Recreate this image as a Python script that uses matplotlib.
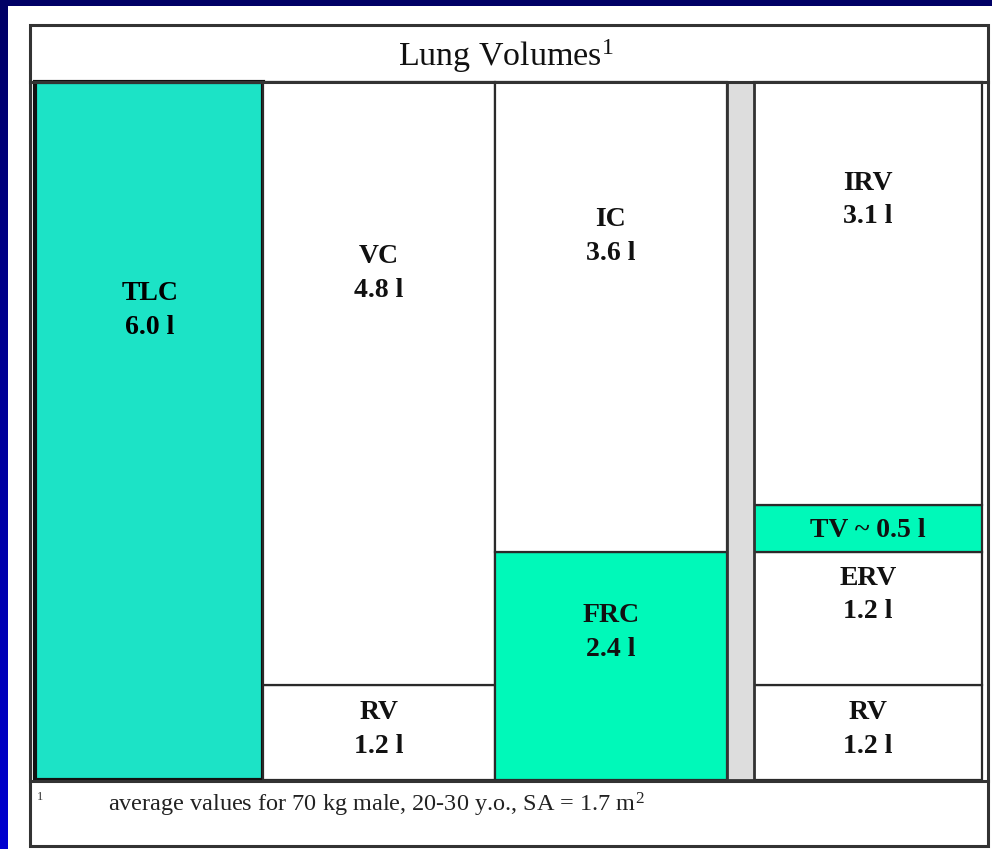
import numpy as np
import matplotlib
matplotlib.use("Agg")
import matplotlib.pyplot as plt
from matplotlib.patches import Rectangle
from matplotlib.lines import Line2D
from matplotlib.colors import LinearSegmentedColormap

plt.rcParams['font.family'] = ['Liberation Serif', 'DejaVu Serif']
plt.rcParams['mathtext.fontset'] = 'custom'
plt.rcParams['mathtext.rm'] = 'Liberation Serif'
plt.rcParams['mathtext.it'] = 'Liberation Serif:italic'
plt.rcParams['mathtext.bf'] = 'Liberation Serif:bold'

# ---------------- data ----------------
title = "Lung Volumes"
footnote = "average values for 70 kg male, 20-30 y.o., SA = 1.7 m"
tlc_name = "TLC"
tlc_value = 6.0
vc_names = ["RV", "VC"]
vc_values = [1.2, 4.8]
ic_names = ["FRC", "IC"]
ic_values = [2.4, 3.6]
vol_names = ["RV", "ERV", "TV", "IRV"]
vol_values = [1.2, 1.2, 0.5, 3.1]

# ---------------- layout ----------------
W, H = 992, 849
fig = plt.figure(figsize=(W / 100, H / 100), dpi=100, facecolor="white")

def fx(x):
    return x / W

def fy(y):
    return 1 - y / H

# navy frame strips
ax_left = fig.add_axes([0, 0, fx(8), 1])
grad = np.linspace(0, 1, 256).reshape(-1, 1)
cmap = LinearSegmentedColormap.from_list("navy", ["#000066", "#0000D0"])
ax_left.imshow(grad, aspect="auto", cmap=cmap, extent=[0, 1, 1, 0])
ax_left.set_axis_off()
fig.add_artist(Rectangle((0, fy(6)), 1, 6 / H, transform=fig.transFigure,
                         facecolor="#000066", edgecolor="none"))

# outer frame
fig.add_artist(Rectangle((fx(30), fy(846)), fx(988) - fx(30), fy(25) - fy(846),
                         transform=fig.transFigure, facecolor="none",
                         edgecolor="#333333", lw=2.2))
fig.add_artist(Line2D([fx(30), fx(988)], [fy(82), fy(82)], transform=fig.transFigure,
                      color="#333333", lw=2.2))
fig.add_artist(Line2D([fx(30), fx(988)], [fy(781), fy(781)], transform=fig.transFigure,
                      color="#333333", lw=2.2))

# main axes
ax = fig.add_axes([fx(35), fy(780), fx(982) - fx(35), fy(82) - fy(780)])
ax.set_axis_off()

# non-linear volume scale (as drawn in the original figure)
knots_l = np.concatenate([[0.0], np.cumsum(vol_values)])
knots_d = np.array([0, 95, 228, 275, 698]) / 698.0

def fwd(v):
    return np.interp(v, knots_l, knots_d, left=0, right=1)

def inv(d):
    return np.interp(d, knots_d, knots_l, left=0, right=knots_l[-1])

ax.set_yscale("function", functions=(fwd, inv))
ax.set_ylim(0, tlc_value)
ax.set_xlim(0, 947)

col_left = [0, 228, 460, 692, 719]
col_width = [228, 232, 232, 27, 228]
teal = "#1CE3C6"
green = "#00F9B9"
gray = "#DDDDDD"
LS = 1.45

# TLC
ax.bar(col_left[0], tlc_value, width=col_width[0], align="edge", color=teal,
       edgecolor="#111111", lw=3, clip_on=False)
ax.text(col_left[0] + col_width[0] / 2 + 1, 0.673,
        f"{tlc_name}\n{tlc_value:.1f} l", transform=ax.get_xaxis_transform(),
        ha="center", va="center", fontsize=20, fontweight="bold", linespacing=LS)

def stack(ci, names, values, colors, label_y):
    bottom = 0.0
    for n, v, c, ly in zip(names, values, colors, label_y):
        ax.bar(col_left[ci], v, bottom=bottom, width=col_width[ci], align="edge",
               color=c, edgecolor="#2a2a2a", lw=1.6, clip_on=False)
        if n == "TV":
            txt = f"{n} ~ {v:.1f} l"
        else:
            txt = f"{n}\n{v:.1f} l"
        ax.text(col_left[ci] + col_width[ci] / 2, ly, txt,
                transform=ax.get_xaxis_transform(), ha="center", va="center",
                fontsize=20, fontweight="bold", linespacing=LS, color="#111111")
        bottom += v

stack(1, vc_names, vc_values, ["white", "white"], [0.072, 0.726])
stack(2, ic_names, ic_values, [green, "white"], [0.211, 0.779])
stack(4, vol_names, vol_values, ["white", "white", green, "white"],
      [0.072, 0.265, 0.358, 0.831])

# gray separator
ax.bar(col_left[3], tlc_value, width=col_width[3], align="edge", color=gray,
       edgecolor="#333333", lw=2, clip_on=False)

# title
fig.text(fx(506), fy(56), title + r"$^{\mathrm{1}}$", ha="center", va="center",
         fontsize=24.5, color="#111111")

# footnote
fig.text(fx(37), fy(797), "1", ha="left", va="center", fontsize=9, color="#333333")
fig.text(fx(108), fy(805), footnote + r"$^{\mathrm{2}}$", ha="left", va="center",
         fontsize=17.5, color="#222222")

fig.savefig("out.png", dpi=100, facecolor="white")
